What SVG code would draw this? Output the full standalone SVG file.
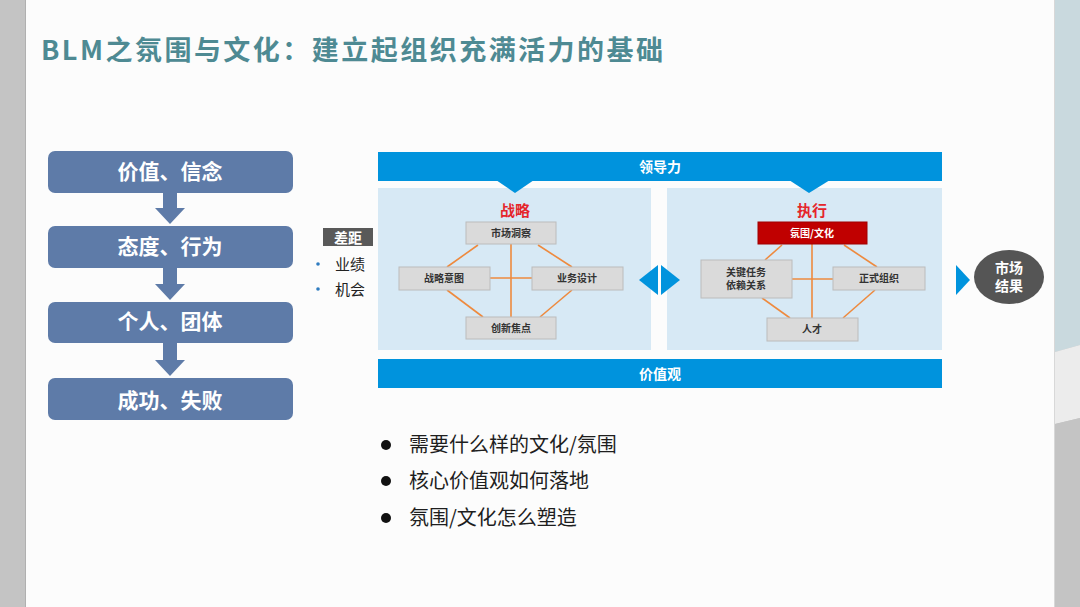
<svg xmlns="http://www.w3.org/2000/svg" width="1080" height="607" viewBox="0 0 1080 607">
<defs>
<style>
.cjk{font-family:"Noto Sans CJK SC","Noto Sans",sans-serif}
.step{fill:#5e7ba8}
.steptxt{font-family:"Noto Sans CJK SC",sans-serif;font-size:21px;font-weight:bold;fill:#fff;text-anchor:middle}
.band{fill:#0093dd}
.bandtxt{font-family:"Noto Sans CJK SC",sans-serif;font-size:14px;font-weight:bold;fill:#fff;text-anchor:middle}
.panel{fill:#d7e9f5}
.box{fill:#dadada;stroke:#bcbcbc;stroke-width:1}
.boxtxt{font-family:"Noto Sans CJK SC",sans-serif;font-size:10px;font-weight:bold;fill:#333;text-anchor:middle}
.link{stroke:#ee8a3e;stroke-width:1.6;fill:none}
.red{font-family:"Noto Sans CJK SC",sans-serif;font-size:15px;font-weight:bold;fill:#e5252b;text-anchor:middle}
.bul{font-family:"Noto Sans CJK SC",sans-serif;font-size:20px;fill:#1e1e1e}
.small{font-family:"Noto Sans CJK SC",sans-serif;font-size:15px;fill:#222}
.arrow{fill:#5e7ba8}
.tri{fill:#0093dd}
</style>
</defs>
<!-- background -->
<rect x="0" y="0" width="1080" height="607" fill="#c4c4c4"/>
<rect x="25" y="0" width="1030" height="607" fill="#fcfcfc"/>
<line x1="25.5" y1="0" x2="25.5" y2="607" stroke="#b0b0b0" stroke-width="1"/>
<polygon points="1055,0 1080,0 1080,345 1055,352" fill="#c9d9de"/>
<polygon points="1055,352 1080,345 1080,418 1055,424" fill="#ececec"/>
<polygon points="1055,424 1080,418 1080,607 1055,607" fill="#c4c4c4"/>
<line x1="1054.5" y1="0" x2="1054.5" y2="607" stroke="#d8d8d8" stroke-width="1"/>

<!-- title -->
<text x="41" y="60" class="cjk" font-size="27" font-weight="bold" fill="#4e8a93" textLength="622" lengthAdjust="spacing">BLM之氛围与文化：建立起组织充满活力的基础</text>

<!-- panels -->
<g id="strategy">
  <rect class="panel" x="378" y="188" width="273" height="162"/>
  <text class="red" x="515" y="216">战略</text>
</g>
<g id="execution">
  <rect class="panel" x="667" y="188" width="275" height="162"/>
  <text class="red" x="812" y="216">执行</text>
</g>

<!-- bands -->
<g id="leadership">
  <rect class="band" x="378" y="152" width="564" height="29"/>
  <polygon class="band" points="496,180 534,180 515,193"/>
  <polygon class="band" points="789,180 830,180 809,193"/>
  <text class="bandtxt" x="660" y="172">领导力</text>
</g>
<g id="values">
  <rect class="band" x="378" y="359" width="564" height="29"/>
  <text class="bandtxt" x="660" y="379">价值观</text>
</g>

<!-- connectors -->
<g id="connectors">
  <polygon class="arrow" points="163,193 177,193 177,208 185,208 170,224 155,208 163,208"/>
  <polygon class="arrow" points="163,268 177,268 177,284 185,284 170,300 155,284 163,284"/>
  <polygon class="arrow" points="163,343 177,343 177,360 185,360 170,376 155,360 163,360"/>
  <!-- strategy links -->
  <line class="link" x1="511" y1="244" x2="511" y2="317"/>
  <line class="link" x1="490" y1="278" x2="532" y2="278"/>
  <line class="link" x1="478" y1="245" x2="447" y2="267"/>
  <line class="link" x1="538" y1="245" x2="572" y2="267"/>
  <line class="link" x1="447" y1="290" x2="483" y2="317"/>
  <line class="link" x1="572" y1="290" x2="540" y2="317"/>
  <!-- execution links -->
  <line class="link" x1="812" y1="244" x2="812" y2="318"/>
  <line class="link" x1="792" y1="279" x2="833" y2="279"/>
  <line class="link" x1="782" y1="245" x2="765" y2="260"/>
  <line class="link" x1="844" y1="245" x2="877" y2="267"/>
  <line class="link" x1="762" y1="298" x2="790" y2="318"/>
  <line class="link" x1="875" y1="290" x2="843" y2="318"/>
  <!-- triangles -->
  <polygon class="tri" points="658,265 658,295 639,280"/>
  <polygon class="tri" points="661,265 661,295 680,280"/>
  <polygon class="tri" points="956,265 956,295 970,280"/>
</g>

<!-- left flow -->
<g id="step1"><rect class="step" x="48" y="151" width="245" height="42" rx="7"/><text class="steptxt" x="170" y="179">价值、信念</text></g>
<g id="step2"><rect class="step" x="48" y="226" width="245" height="42" rx="7"/><text class="steptxt" x="170" y="254">态度、行为</text></g>
<g id="step3"><rect class="step" x="48" y="302" width="245" height="41" rx="7"/><text class="steptxt" x="170" y="329">个人、团体</text></g>
<g id="step4"><rect class="step" x="48" y="378" width="245" height="42" rx="7"/><text class="steptxt" x="170" y="408">成功、失败</text></g>

<!-- gap -->
<g id="gap">
  <rect x="323" y="228" width="50" height="18" fill="#595959"/>
  <text x="348" y="243" class="cjk" font-size="14" font-weight="bold" fill="#fff" text-anchor="middle">差距</text>
  <circle cx="318" cy="264" r="1.8" fill="#2f7cc0"/>
  <text x="335" y="270" class="small">业绩</text>
  <circle cx="318" cy="289" r="1.8" fill="#2f7cc0"/>
  <text x="335" y="295" class="small">机会</text>
</g>

<!-- strategy boxes -->
<g id="insight"><rect class="box" x="466" y="222" width="90" height="22"/><text class="boxtxt" x="511" y="237">市场洞察</text></g>
<g id="intent"><rect class="box" x="399" y="267" width="91" height="23"/><text class="boxtxt" x="444" y="282">战略意图</text></g>
<g id="design"><rect class="box" x="532" y="267" width="91" height="23"/><text class="boxtxt" x="577" y="282">业务设计</text></g>
<g id="innovation"><rect class="box" x="466" y="317" width="90" height="22"/><text class="boxtxt" x="511" y="332">创新焦点</text></g>

<!-- execution boxes -->
<g id="culture"><rect x="758" y="222" width="109" height="22" fill="#c00000" stroke="#a00000"/><text class="boxtxt" x="812" y="237" style="fill:#fff">氛围/文化</text></g>
<g id="tasks"><rect class="box" x="701" y="260" width="91" height="38"/><text class="boxtxt" x="746" y="276">关键任务</text><text class="boxtxt" x="746" y="289">依赖关系</text></g>
<g id="formal"><rect class="box" x="833" y="267" width="92" height="23"/><text class="boxtxt" x="879" y="282">正式组织</text></g>
<g id="talent"><rect class="box" x="767" y="318" width="91" height="23"/><text class="boxtxt" x="812" y="333">人才</text></g>

<!-- market result -->
<g id="market">
  <ellipse cx="1009" cy="277" rx="35" ry="27" fill="#555"/>
  <text x="1009" y="273" class="cjk" font-size="14" font-weight="bold" fill="#fff" text-anchor="middle">市场</text>
  <text x="1009" y="291" class="cjk" font-size="14" font-weight="bold" fill="#fff" text-anchor="middle">结果</text>
</g>

<!-- questions -->
<g id="questions">
  <circle cx="386" cy="445" r="5" fill="#111"/>
  <text class="bul" x="409" y="452">需要什么样的文化/氛围</text>
  <circle cx="386" cy="481" r="5" fill="#111"/>
  <text class="bul" x="409" y="488">核心价值观如何落地</text>
  <circle cx="386" cy="518" r="5" fill="#111"/>
  <text class="bul" x="409" y="525">氛围/文化怎么塑造</text>
</g>
</svg>
